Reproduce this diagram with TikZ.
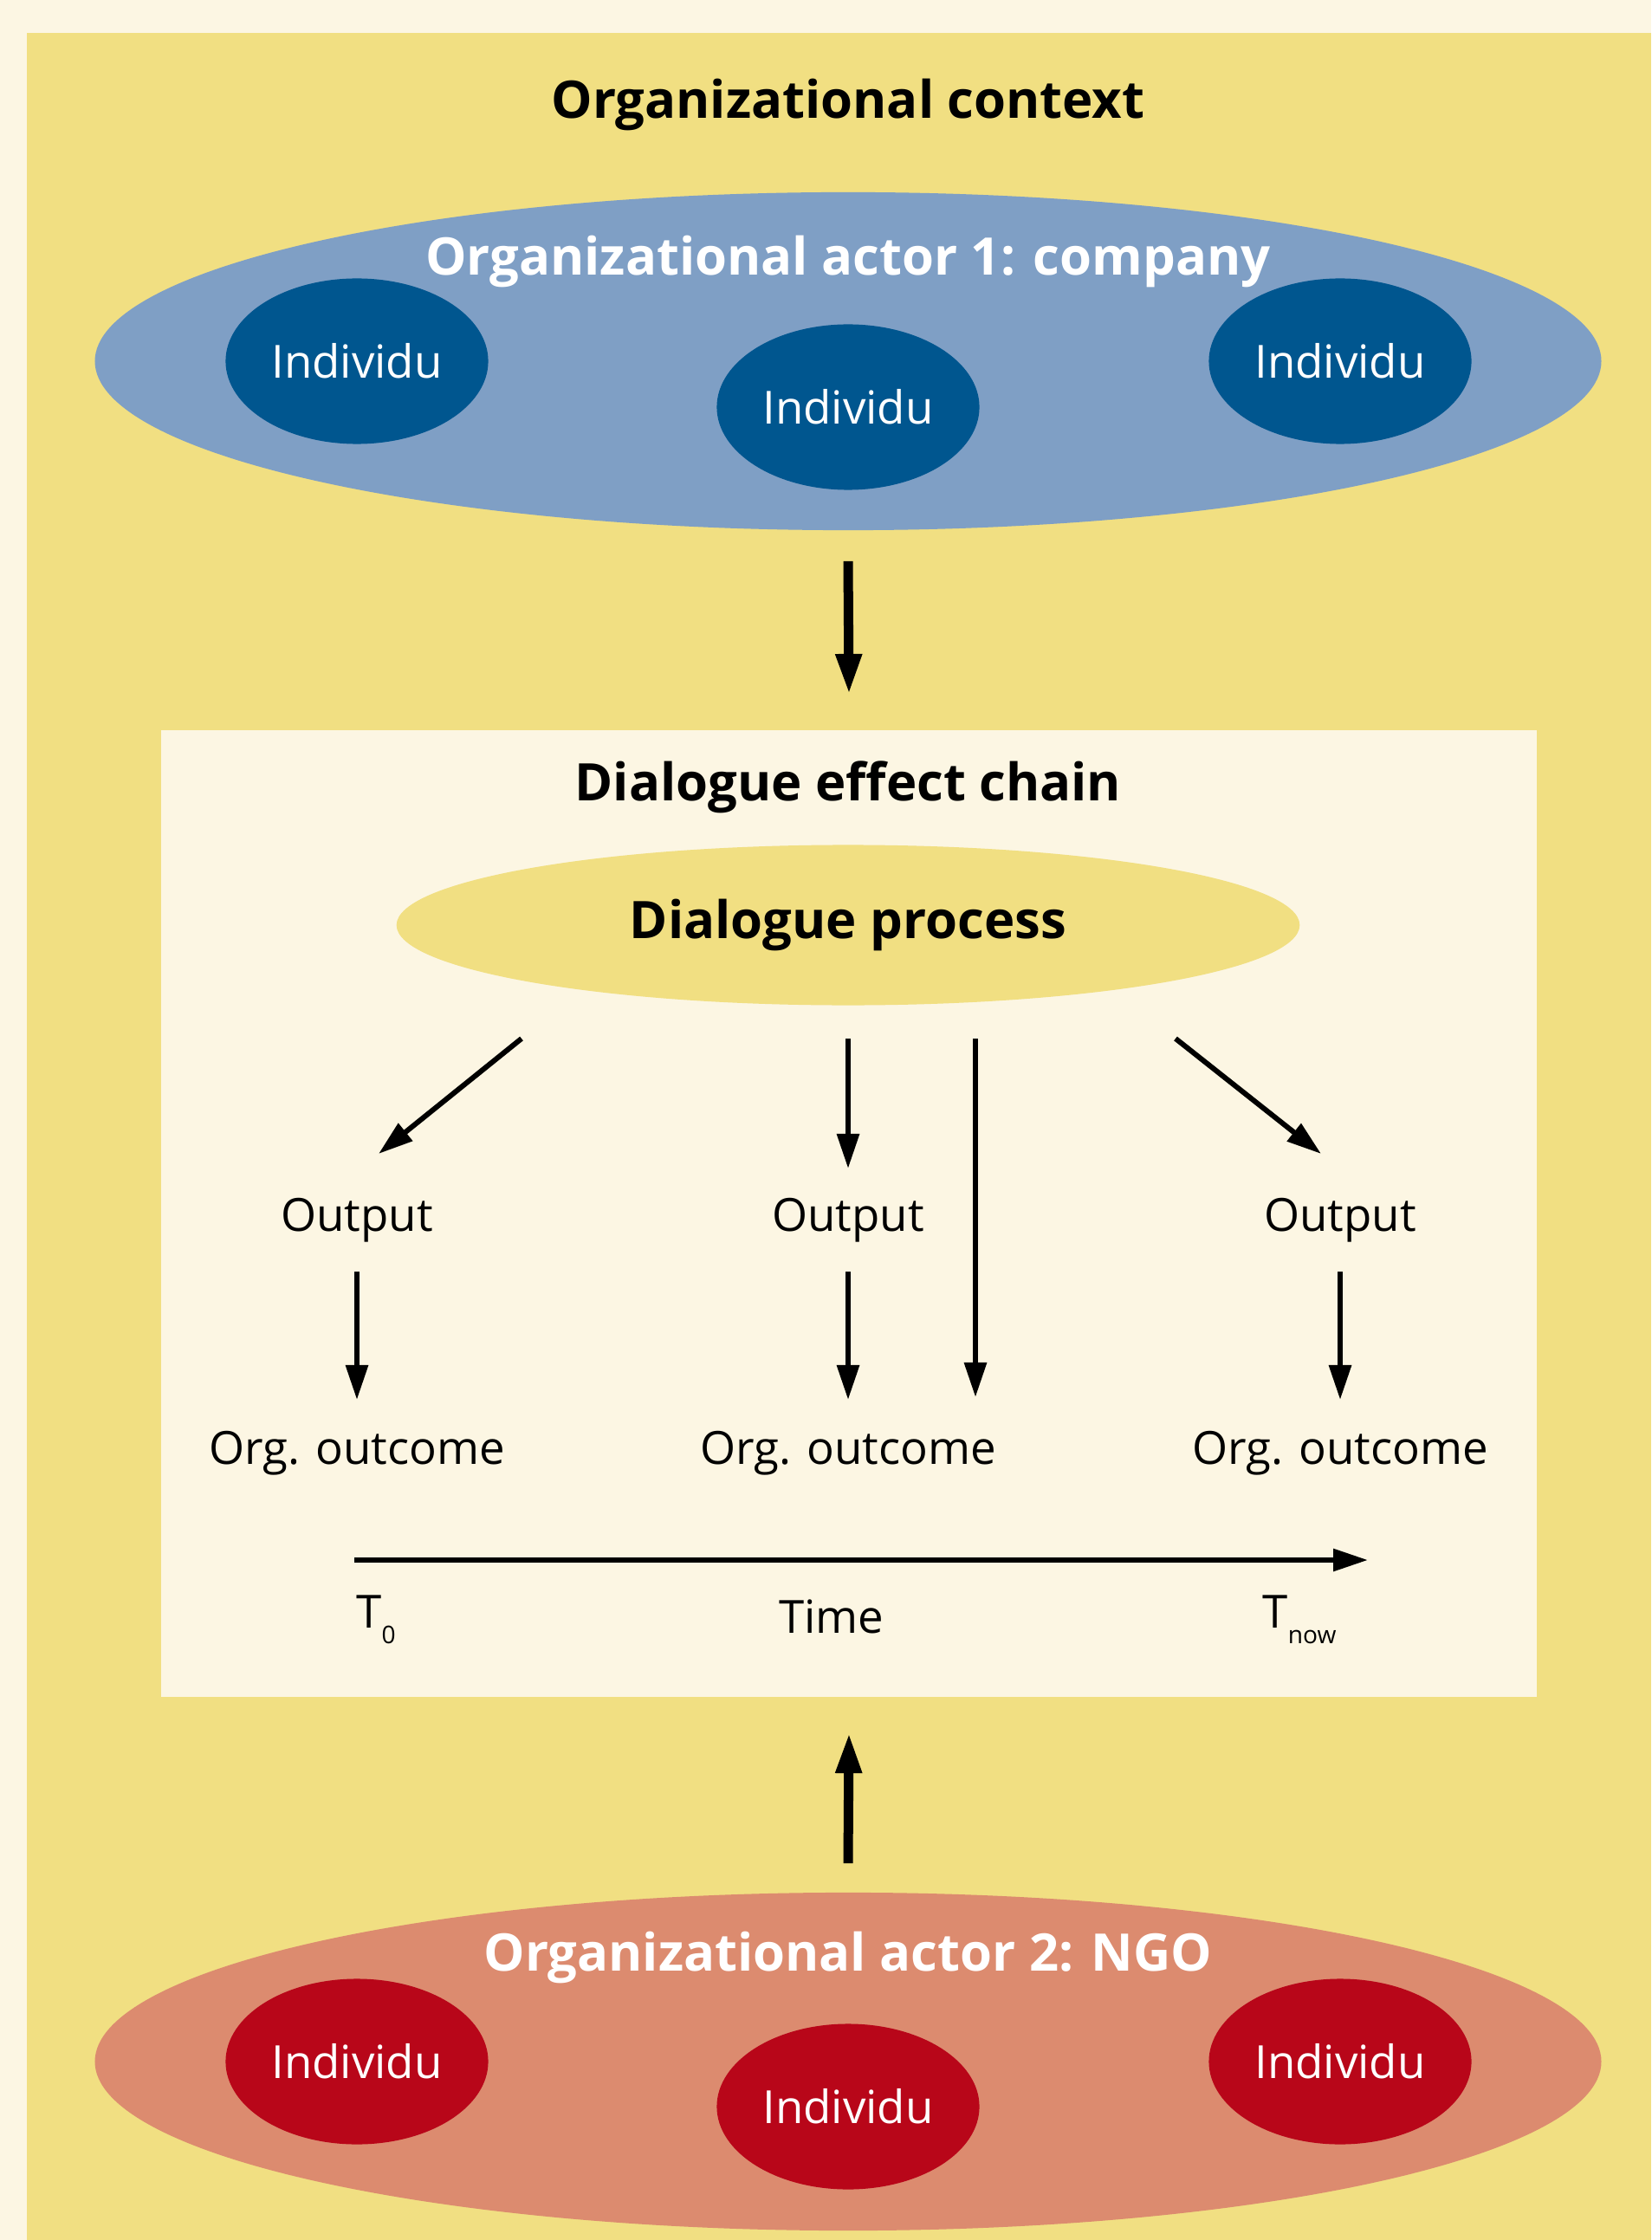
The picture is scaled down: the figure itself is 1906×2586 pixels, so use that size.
\documentclass[tikz,border=0pt]{standalone}
\usepackage{fontspec}
\setmainfont{Open Sans}
\usetikzlibrary{positioning, arrows.meta, shapes.geometric, calc}

\definecolor{paper}{HTML}{FCF6E3}
\definecolor{ctxyellow}{HTML}{F1DF82}
\definecolor{coblue}{HTML}{7F9FC5}
\definecolor{codark}{HTML}{00568F}
\definecolor{ngosalmon}{HTML}{DC8B6F}
\definecolor{ngored}{HTML}{B80619}

\begin{document}
\begin{tikzpicture}[
    x=0.01cm, y=-0.01cm,
    actor/.style={ellipse, minimum width=17.38cm, minimum height=3.9cm, inner sep=0pt},
    person/.style={ellipse, minimum width=3.03cm, minimum height=1.91cm, inner sep=0pt, text=white, font=\fontsize{15}{18}\selectfont},
    heading/.style={font=\fontsize{17}{20}\selectfont\bfseries},
    stage/.style={inner sep=0pt, font=\fontsize{15}{18}\selectfont},
    bigarrow/.style={-{Stealth[length=0.47cm, width=0.28cm, inset=0pt]}, line width=0.11cm},
    arrow/.style={-{Stealth[length=0.4cm, width=0.25cm, inset=0pt]}, line width=0.06cm}
]

% Background
\useasboundingbox[fill=paper] (0,0) rectangle (1906,2586);
\fill[ctxyellow] (31,38) rectangle (1906,2586);
\node[heading] (context) at (979,121) {Organizational context};

% Actor 1
\node[actor, fill=coblue] (actor1) at (979,417) {};
\node[heading, text=white] (actor1title) at (979,302) {Organizational actor 1: company};
\node[person, fill=codark] (co1) at (412,417) {Individu};
\node[person, fill=codark] (co2) at (979,470) {Individu};
\node[person, fill=codark] (co3) at (1547,417) {Individu};

% Actor 2
\node[actor, fill=ngosalmon] (actor2) at (979,2380) {};
\node[heading, text=white] (actor2title) at (979,2260) {Organizational actor 2: NGO};
\node[person, fill=ngored] (ngo1) at (412,2380) {Individu};
\node[person, fill=ngored] (ngo2) at (979,2432) {Individu};
\node[person, fill=ngored] (ngo3) at (1547,2380) {Individu};

% Dialogue effect chain
\node[rectangle, fill=paper, minimum width=15.88cm, minimum height=11.16cm, inner sep=0pt] (chain) at (980,1401) {};
\node[heading] (chaintitle) at (979,909) {Dialogue effect chain};
\node[ellipse, fill=ctxyellow, minimum width=10.42cm, minimum height=1.85cm, inner sep=0pt, heading] (proc) at (979,1068) {Dialogue process};

\node[stage] (out1) at (412,1409) {Output};
\node[stage] (out2) at (979,1409) {Output};
\node[stage] (out3) at (1547,1409) {Output};
\node[stage] (oc1) at (412,1678) {Org. outcome};
\node[stage] (oc2) at (979,1678) {Org. outcome};
\node[stage] (oc3) at (1547,1678) {Org. outcome};

\draw[arrow] ([shift={(-377,131)}]proc.center) -- ([shift={(25,-77)}]out1.center);
\draw[arrow] ([shift={(0,131)}]proc.center) -- ([shift={(0,-60)}]out2.center);
\draw[arrow] ([shift={(147,131)}]proc.center) -- ([shift={(147,-65)}]oc2.center);
\draw[arrow] ([shift={(378,131)}]proc.center) -- ([shift={(-22,-77)}]out3.center);

\draw[arrow] ([shift={(0,59)}]out1.center) -- ([shift={(0,-62)}]oc1.center);
\draw[arrow] ([shift={(0,59)}]out2.center) -- ([shift={(0,-62)}]oc2.center);
\draw[arrow] ([shift={(0,59)}]out3.center) -- ([shift={(0,-62)}]oc3.center);

% Time axis
\coordinate (axisstart) at (409,1801);
\coordinate (axisend) at (1579,1801);
\draw[arrow] (axisstart) -- (axisend);
\node[stage] (t0) at (434,1870) {T\raisebox{-0.35em}{\footnotesize 0}};
\node[stage] (time) at (960,1866) {Time};
\node[stage] (tnow) at (1500,1870) {T\raisebox{-0.35em}{\footnotesize now}};

% Influence of the actors
\draw[bigarrow] ([yshift=-0.35cm]actor1.south) -- ([yshift=0.4cm]chain.north);
\draw[bigarrow] ([yshift=0.33cm]actor2.north) -- ([yshift=-0.4cm]chain.south);

\end{tikzpicture}
\end{document}
